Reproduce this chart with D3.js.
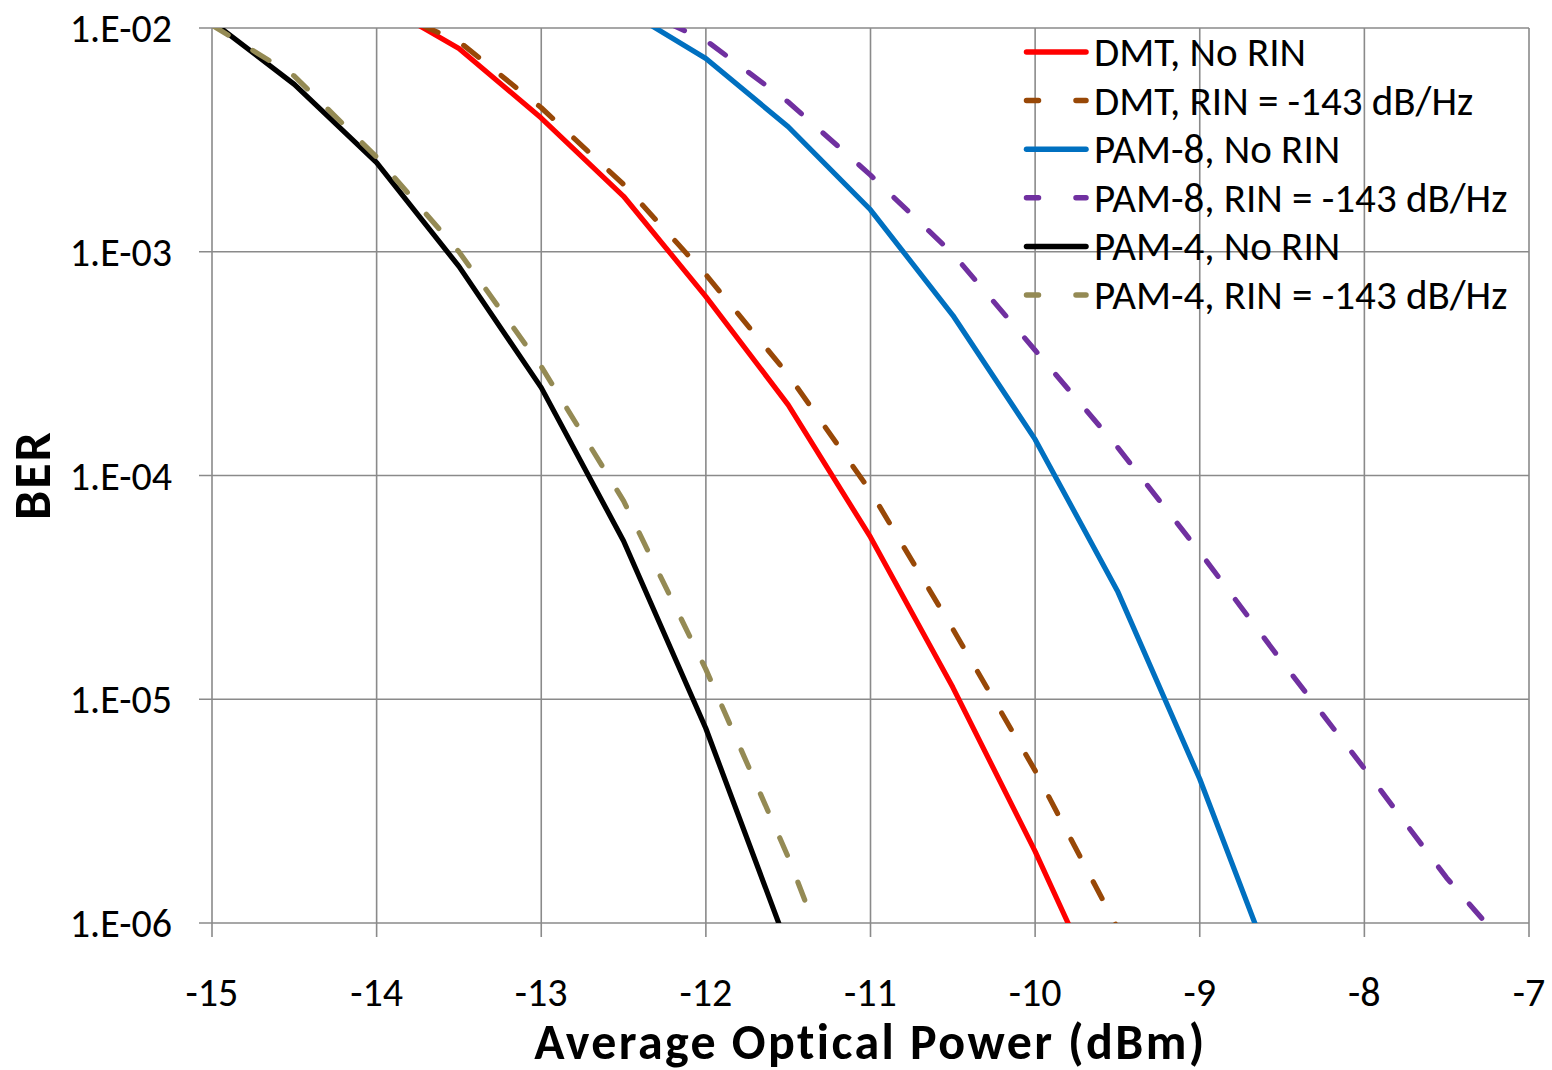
<!DOCTYPE html>
<html>
<head>
<meta charset="utf-8">
<script src="https://cdn.jsdelivr.net/npm/d3@7"></script>
<style>
  body { margin: 0; background: #fff; }
  text { font-family: Calibri, Carlito, Lato, sans-serif; fill: #000; }
</style>
</head>
<body>
<div id="chart"></div>
<script>
// BER vs Average Optical Power chart

// Shared x values (dBm), 0.5 dB steps
const power = [-15, -14.5, -14, -13.5, -13, -12.5, -12, -11.5, -11, -10.5, -10, -9.5, -9, -8.5, -8, -7.5, -7];

// BER values (null = no point)
const dmtNoRin   = [null, null, 1.32e-2, 8.1e-3, 3.96e-3, 1.77e-3, 6.3e-4, 2.07e-4, 5.3e-5, 1.13e-5, 2.09e-6, 3.3e-7, null, null, null, null, null];
const dmtRin     = [null, null, 1.26e-2, 8.7e-3, 4.4e-3, 2.0e-3, 7.9e-4, 2.82e-4, 8.5e-5, 2.06e-5, 4.8e-6, 9.5e-7, null, null, null, null, null];
const pam8NoRin  = [null, null, null, null, null, 1.22e-2, 7.3e-3, 3.62e-3, 1.54e-3, 5.2e-4, 1.45e-4, 3.05e-5, 4.4e-6, 4.8e-7, null, null, null];
const pam8Rin    = [null, null, null, null, null, 1.3e-2, 8.8e-3, 4.67e-3, 2.2e-3, 9.8e-4, 3.63e-4, 1.34e-4, 4.55e-5, 1.47e-5, 4.9e-6, 1.59e-6, 6.0e-7];
const pam4NoRin  = [1.07e-2, 5.6e-3, 2.5e-3, 8.6e-4, 2.47e-4, 5.1e-5, 7.4e-6, 7.7e-7, null, null, null, null, null, null, null, null, null];
const pam4Rin    = [1.03e-2, 6.1e-3, 2.65e-3, 1.0e-3, 3.07e-4, 7.7e-5, 1.36e-5, 1.97e-6, 2.2e-7, null, null, null, null, null, null, null, null];

// Legend names, colours, dash flags
const seriesNames  = ["DMT, No RIN", "DMT, RIN = -143 dB/Hz", "PAM-8, No RIN", "PAM-8, RIN = -143 dB/Hz", "PAM-4, No RIN", "PAM-4, RIN = -143 dB/Hz"];
const seriesColors = ["#ff0000", "#984807", "#0070c0", "#7030a0", "#000000", "#948a54"];
const seriesDashed = [false, true, false, true, false, true];
const seriesValues = [dmtNoRin, dmtRin, pam8NoRin, pam8Rin, pam4NoRin, pam4Rin];

// Axis ticks
const xTicks = [-15, -14, -13, -12, -11, -10, -9, -8, -7];
const yTicks = [1e-2, 1e-3, 1e-4, 1e-5, 1e-6];

// Dimensions
const W = 1552, H = 1070;
const plot = {left: 212, right: 1529, top: 28, bottom: 923};

const svg = d3.select("#chart")
  .append("svg")
    .attr("width", W)
    .attr("height", H);

// Scales
const x = d3.scaleLinear().domain([-15, -7]).range([plot.left, plot.right]);
const y = d3.scaleLog().domain([1e-6, 1e-2]).range([plot.bottom, plot.top]);

// Gridlines (horizontal, with tick stubs to the left)
svg.append("g")
  .selectAll("line")
  .data(yTicks)
  .enter()
  .append("line")
    .attr("x1", plot.left - 13)
    .attr("x2", plot.right)
    .attr("y1", d => y(d))
    .attr("y2", d => y(d))
    .attr("stroke", "#8a8a8a")
    .attr("stroke-width", 1.6);

// Gridlines (vertical, with tick stubs below)
svg.append("g")
  .selectAll("line")
  .data(xTicks)
  .enter()
  .append("line")
    .attr("x1", d => x(d))
    .attr("x2", d => x(d))
    .attr("y1", plot.top)
    .attr("y2", plot.bottom + 14)
    .attr("stroke", "#8a8a8a")
    .attr("stroke-width", 1.6);

// Y tick labels
svg.append("g")
  .selectAll("text")
  .data(yTicks)
  .enter()
  .append("text")
    .attr("x", 172)
    .attr("y", d => y(d) + 14)
    .attr("text-anchor", "end")
    .attr("font-size", "40px")
    .text(d => "1.E-0" + Math.round(-Math.log10(d)));

// X tick labels
svg.append("g")
  .selectAll("text")
  .data(xTicks)
  .enter()
  .append("text")
    .attr("x", d => x(d))
    .attr("y", 1006)
    .attr("text-anchor", "middle")
    .attr("font-size", "40px")
    .text(d => d);

// Axis titles
svg.append("text")
  .attr("x", (plot.left + plot.right) / 2)
  .attr("y", 1059)
  .attr("text-anchor", "middle")
  .attr("font-size", "50px")
  .attr("font-weight", "bold")
  .attr("letter-spacing", "2.4px")
  .text("Average Optical Power (dBm)");

svg.append("text")
  .attr("transform", "translate(50,475) rotate(-90)")
  .attr("text-anchor", "middle")
  .attr("font-size", "52px")
  .attr("font-weight", "bold")
  .attr("letter-spacing", "2px")
  .text("BER");

// Clip the curves to the plot area
svg.append("clipPath")
  .attr("id", "plotClip")
  .append("rect")
    .attr("x", plot.left)
    .attr("y", plot.top)
    .attr("width", plot.right - plot.left)
    .attr("height", plot.bottom - plot.top);

const line = d3.line()
  .defined(d => d.ber != null)
  .x(d => x(d.p))
  .y(d => y(d.ber));

const curves = svg.append("g").attr("clip-path", "url(#plotClip)");

seriesValues.forEach((vals, i) => {
  const pts = power.map((p, j) => ({p: p, ber: vals[j]}));
  curves.append("path")
    .datum(pts)
    .attr("fill", "none")
    .attr("stroke", seriesColors[i])
    .attr("stroke-width", 5.2)
    .attr("stroke-linejoin", "round")
    .attr("stroke-linecap", seriesDashed[i] ? "round" : "butt")
    .attr("stroke-dasharray", seriesDashed[i] ? "19,29" : null)
    .attr("d", line);
});

// Legend (no box)
const legend = svg.append("g");
seriesNames.forEach((name, i) => {
  const ly = 52 + i * 48.6;
  legend.append("line")
    .attr("x1", 1026.5)
    .attr("x2", 1086)
    .attr("y1", ly)
    .attr("y2", ly)
    .attr("stroke", seriesColors[i])
    .attr("stroke-width", 5.5)
    .attr("stroke-linecap", "round")
    .attr("stroke-dasharray", seriesDashed[i] ? "12,37.5" : null);
  legend.append("text")
    .attr("x", 1094)
    .attr("y", ly + 14)
    .attr("font-size", "41px")
    .text(name);
});
</script>
</body>
</html>
